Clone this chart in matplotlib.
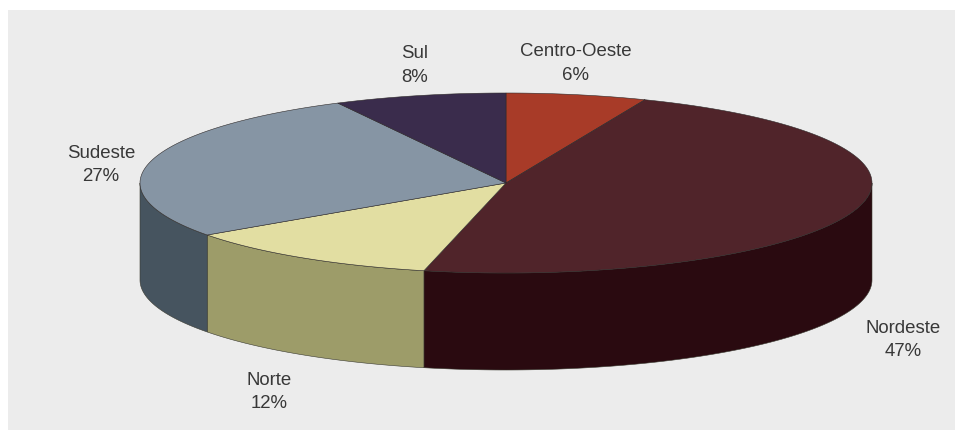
import numpy as np
import matplotlib
matplotlib.use('Agg')
import matplotlib.pyplot as plt
from matplotlib.patches import Polygon, Rectangle

# regions, clockwise from 12 o'clock
regions = ['Centro-Oeste', 'Nordeste', 'Norte', 'Sudeste', 'Sul']
shares = [6.2, 47.4, 11.6, 27.2, 7.6]
top_colors = ['#a83b28', '#50242a', '#e2dea2', '#8695a4', '#3a2c4c']
side_colors = ['#7a2a1c', '#2a0a10', '#9d9c69', '#46545f', '#2a2038']
label_pos = {'Centro-Oeste': (576, 63.5), 'Nordeste': (903, 340), 'Norte': (269.5, 392),
             'Sudeste': (101, 165), 'Sul': (415, 65.5)}

cx, cy = 506, 183
rx, ry = 366, 90
depth = 97


def ellipse_xy(deg):
    a = np.radians(deg)
    return cx + rx * np.sin(a), cy - ry * np.cos(a)


plt.rcParams['font.family'] = ['Liberation Sans', 'DejaVu Sans']
fig = plt.figure(figsize=(9.58, 4.32), dpi=100, facecolor='white')
ax = fig.add_axes([0, 0, 1, 1])
ax.set_xlim(0, 958)
ax.set_ylim(432, 0)
ax.axis('off')
ax.add_patch(Rectangle((8, 10), 947, 420, facecolor='#ececec', edgecolor='none'))

edges = np.cumsum([0] + shares) * 3.6

# side walls, only the front half of the disc shows
for i, region in enumerate(regions):
    start = max(edges[i], 90)
    end = min(edges[i + 1], 270)
    if end <= start:
        continue
    t = np.linspace(start, end, 120)
    x, y = ellipse_xy(t)
    pts = np.r_[np.c_[x, y], np.c_[x[::-1], y[::-1] + depth]]
    ax.add_patch(Polygon(pts, closed=True, facecolor=side_colors[i], edgecolor='#3a3a30', linewidth=0.4))

# top slices
for i, region in enumerate(regions):
    t = np.linspace(edges[i], edges[i + 1], 160)
    x, y = ellipse_xy(t)
    pts = np.r_[[[cx, cy]], np.c_[x, y]]
    ax.add_patch(Polygon(pts, closed=True, facecolor=top_colors[i], edgecolor='#2e2a2a', linewidth=0.4))

for region, share in zip(regions, shares):
    px, py = label_pos[region]
    ax.text(px, py, f'{region}\n{round(share)}%', ha='center', va='center', fontsize=13.4,
            color='#383838', linespacing=1.5)

fig.savefig('out.png', dpi=100)
